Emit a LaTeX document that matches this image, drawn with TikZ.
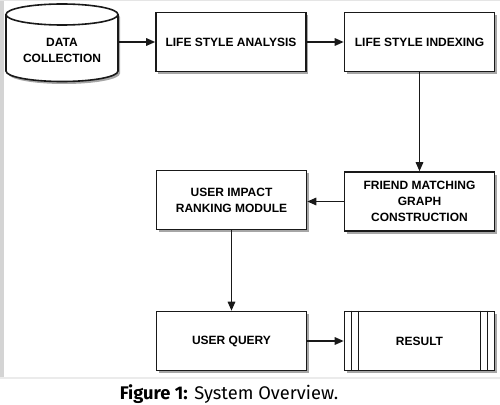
\documentclass[tikz,border=0pt]{standalone}
\usepackage{fontspec}
\setmainfont{Liberation Sans}
\newfontfamily\capfont{Fira Sans}
\usetikzlibrary{shadows,arrows.meta}
\begin{document}
\begin{tikzpicture}[x=1pt,y=-1pt,
  shade/.style={drop shadow={shadow xshift=2pt, shadow yshift=-2.5pt, opacity=0.35, fill=black}},
  box/.style={draw=black!90, line width=1.6pt, fill=white, minimum width=150pt, minimum height=59pt,
    align=center, font=\bfseries\fontsize{12}{15.8}\selectfont, inner sep=2pt, shade},
  lbl/.style={align=center, font=\bfseries\fontsize{12}{15.5}\selectfont, inner sep=0pt},
  arr/.style={line width=1.6pt, draw=black!90, -{Triangle[length=9pt,width=7.5pt]}},
]
\useasboundingbox (0,0) rectangle (500,404);
% frame
\fill[black!17] (0,0) rectangle (3.5,378);
\draw[black!10, line width=1.2pt] (0,0.6) -- (500,0.6);
\draw[black!8, line width=1.5pt] (0,378) -- (500,378);
% cylinder
\path[draw=black!90, line width=1.6pt, fill=white, shade]
  (6,14.5) -- (6,71) arc[start angle=180, end angle=360, x radius=56pt, y radius=10.5pt]
  -- (118,14.5) arc[start angle=0, end angle=180, x radius=56pt, y radius=10.5pt] -- cycle;
\draw[black!90, line width=1.6pt] (6,14.5) arc[start angle=180, end angle=360, x radius=56pt, y radius=10.5pt];
\node[lbl] (dc) at (62,50.5) {DATA\\COLLECTION};
\coordinate (dce) at (118,42);
% boxes
\node[box] (b1) at (231,42) {LIFE STYLE ANALYSIS};
\node[box] (b2) at (419.5,42) {LIFE STYLE INDEXING};
\node[box] (b3) at (419.5,201.5) {FRIEND MATCHING\\GRAPH\\CONSTRUCTION};
\node[box] (b4) at (231.5,200) {USER IMPACT\\RANKING MODULE};
\node[box] (b5) at (231.5,341) {USER QUERY};
\node[box] (b6) at (419.5,341) {RESULT};
\foreach \d in {8,15}{
  \draw[black!90, line width=1.4pt] ([xshift=\d pt]b6.north west) -- ([xshift=\d pt]b6.south west);
  \draw[black!90, line width=1.4pt] ([xshift=-\d pt]b6.north east) -- ([xshift=-\d pt]b6.south east);
}
% connectors
\draw[arr] (dce) -- (dce -| b1.west);
\draw[arr] (b1) -- (b2);
\draw[arr] (b2) -- (b3);
\draw[arr] (b3.west) -- (b3.west -| b4.east);
\draw[arr] (b4) -- (b5);
\draw[arr] (b5) -- (b6);
% caption
\node[font=\capfont\fontsize{18.3}{20}\selectfont, anchor=base, inner sep=0pt] (cap) at (229,399)
  {\textbf{Figure 1:} System Overview.};
\end{tikzpicture}
\end{document}
